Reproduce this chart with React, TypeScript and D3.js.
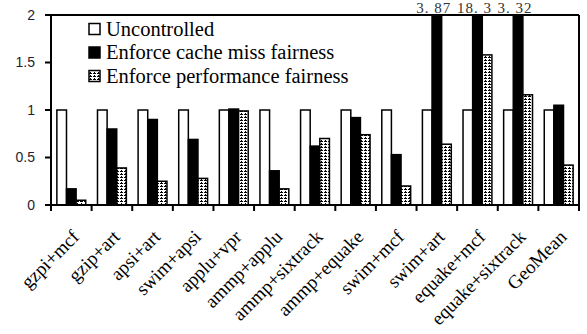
import * as d3 from 'd3';

const categories = [
  'gzpi+mcf', 'gzip+art', 'apsi+art', 'swim+apsi', 'applu+vpr', 'ammp+applu',
  'ammp+sixtrack', 'ammp+equake', 'swim+mcf', 'swim+art', 'equake+mcf',
  'equake+sixtrack', 'GeoMean',
];
const seriesNames = ['Uncontrolled', 'Enforce cache miss fairness', 'Enforce performance fairness'];
const uncontrolled = [1, 1, 1, 1, 1, 1, 1, 1, 1, 1, 1, 1, 1];
const cacheMiss = [0.17, 0.8, 0.9, 0.69, 1.01, 0.36, 0.62, 0.92, 0.53, 3.87, 18.3, 3.32, 1.05];
const perfFair = [0.05, 0.39, 0.25, 0.28, 0.99, 0.17, 0.7, 0.74, 0.2, 0.64, 1.58, 1.16, 0.42];
const yTicks = [0, 0.5, 1, 1.5, 2];

const W = 587, H = 334;
const m = { left: 51, right: 8, top: 15, bottom: 129 };

export default function App() {
  const x = d3.scaleBand().domain(categories).range([m.left, W - m.right]).padding(0);
  const inner = d3.scaleBand().domain(['0', '1', '2']).range([0, x.bandwidth()])
    .paddingInner(0).paddingOuter(0.61);
  const y = d3.scaleLinear().domain([0, 2]).range([H - m.bottom, m.top]);
  const values = [uncontrolled, cacheMiss, perfFair];
  const fills = ['#fff', '#000', 'url(#dots)'];
  const y0 = y(0);
  const right = W - m.right;

  const bars: JSX.Element[] = [];
  const labels: JSX.Element[] = [];
  categories.forEach((c, i) => {
    values.forEach((vals, s) => {
      const v = vals[i];
      const bx = (x(c) ?? 0) + (inner(String(s)) ?? 0);
      const top = y(Math.min(v, 2));
      bars.push(
        <rect key={`${c}-${s}`} x={bx} y={top} width={inner.bandwidth()} height={y0 - top}
          fill={fills[s]} stroke="#000" strokeWidth={1.5} />
      );
      // values beyond the axis get a number over the frame
      if (v > 2) {
        labels.push(
          <text key={`l-${c}`} x={bx + inner.bandwidth() / 2 - 3} y={13} textAnchor="middle"
            fontFamily="'Liberation Serif', serif" fontSize={15} letterSpacing={1} fill="#333">
            {String(v).replace('.', '. ')}
          </text>
        );
      }
    });
  });

  const boundaries = [...categories.map(c => x(c) ?? 0), right];

  return (
    <svg width={W} height={H} style={{ position: 'absolute', left: 0, top: 0 }}>
      <defs>
        <pattern id="dots" width={4} height={3} patternUnits="userSpaceOnUse">
          <rect width={4} height={3} fill="#fff" />
          <rect x={0} y={0} width={3} height={1} fill="#000" />
          <rect x={1} y={2} width={1} height={1} fill="#000" />
        </pattern>
      </defs>
      <rect width={W} height={H} fill="#fff" />
      {bars}
      <line x1={m.left} x2={right} y1={y(2)} y2={y(2)} stroke="#000" strokeWidth={2} />
      <line x1={right} x2={right} y1={y(2)} y2={y0} stroke="#000" strokeWidth={2} />
      <line x1={m.left} x2={m.left} y1={y(2)} y2={y0} stroke="#000" strokeWidth={2} />
      <line x1={m.left - 1} x2={right + 1} y1={y0} y2={y0} stroke="#000" strokeWidth={2} />
      {boundaries.map((b, i) => (
        <line key={`t${i}`} x1={b} x2={b} y1={y0} y2={y0 + 6} stroke="#000" strokeWidth={2} />
      ))}
      {yTicks.map(t => (
        <g key={`y${t}`}>
          <line x1={m.left - 6} x2={m.left} y1={y(t)} y2={y(t)} stroke="#000" strokeWidth={2} />
          <text x={35} y={y(t)} dy="0.35em" textAnchor="end" fontFamily="'Liberation Sans', Arial, sans-serif"
            fontSize={14} fill="#1e1e30">{t}</text>
        </g>
      ))}
      {labels}
      {categories.map(c => {
        const cx = (x(c) ?? 0) + x.bandwidth() / 2 + 9;
        return (
          <text key={`x-${c}`} transform={`translate(${cx},${y0 + 33}) rotate(-45)`} textAnchor="end"
            fontFamily="'Liberation Serif', serif" fontSize={19} fill="#000">{c}</text>
        );
      })}
      {seriesNames.map((n, i) => (
        <g key={n} transform={`translate(89,${29 + i * 23.5})`}>
          <rect x={0} y={-5.5} width={11} height={11} fill={fills[i]} stroke="#000" strokeWidth={1.5} />
          <text x={17} y={0} dy="0.33em" fontFamily="'Liberation Serif', serif" fontSize={20.5}
            fill="#000">{n}</text>
        </g>
      ))}
    </svg>
  );
}
